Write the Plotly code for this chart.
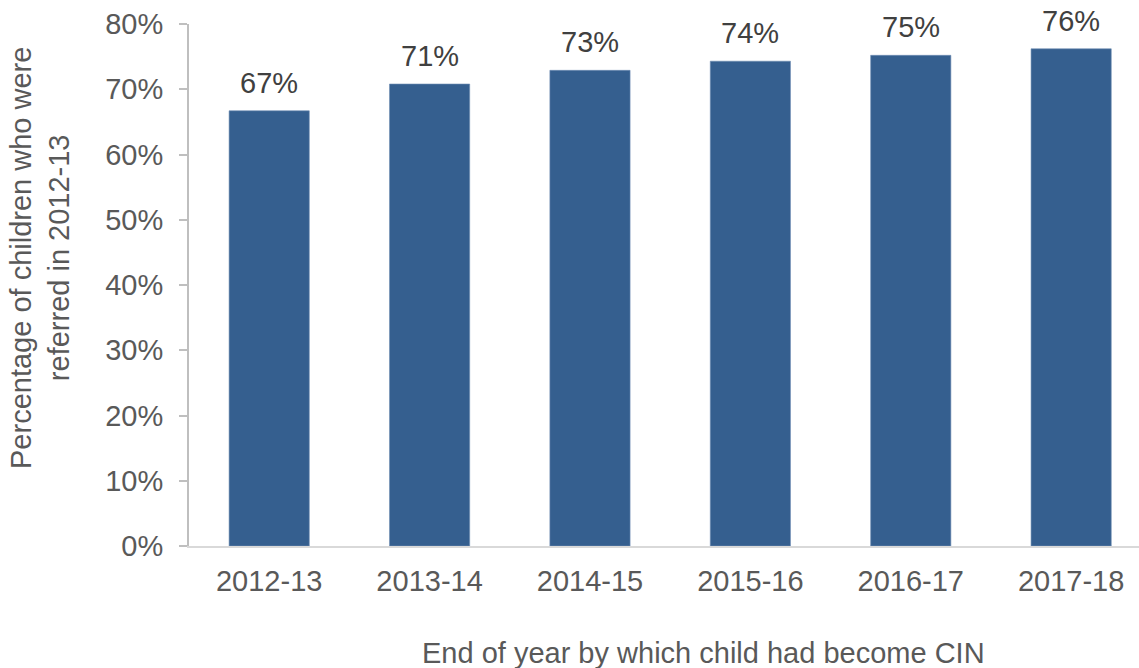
import plotly.graph_objects as go

categories = ["2012-13", "2013-14", "2014-15", "2015-16", "2016-17", "2017-18"]
values = [66.7, 70.8, 72.9, 74.3, 75.2, 76.2]
labels = ["67%", "71%", "73%", "74%", "75%", "76%"]
y_ticks = [0, 10, 20, 30, 40, 50, 60, 70, 80]
y_tick_text = ["0%", "10%", "20%", "30%", "40%", "50%", "60%", "70%", "80%"]

FONT = "Liberation Sans, Arial, sans-serif"
GREY = "#595959"
FS = 29

L, R, T, B, W, H = 189, 0, 24, 122, 1139, 668
pw = W - L - R
ph = H - T - B

def px_to_paper(px, py):
    return (px - L) / pw, (H - B - py) / ph

fig = go.Figure(go.Bar(
    x=list(range(len(categories))), y=values,
    marker=dict(color="#355F8F", line=dict(color="#6F8DB3", width=0.6)),
    width=0.5,
))

annotations = []
for i, (v, lab) in enumerate(zip(values, labels)):
    annotations.append(dict(
        x=i, y=v, xref="x", yref="y", text=lab, showarrow=False,
        xanchor="center", yanchor="bottom", yshift=10,
        font=dict(family=FONT, size=FS, color="#404040"),
    ))

xt_x, xt_y = px_to_paper(703, 653)
annotations.append(dict(
    text="End of year by which child had become CIN", x=xt_x, y=xt_y,
    xref="paper", yref="paper", showarrow=False, xanchor="center", yanchor="middle",
    font=dict(family=FONT, size=FS, color=GREY)))
yt_x, yt_y = px_to_paper(40, 258)
annotations.append(dict(
    text="Percentage of children who were<br>referred in 2012-13", x=yt_x, y=yt_y,
    xref="paper", yref="paper", showarrow=False, xanchor="center", yanchor="middle",
    textangle=-90, font=dict(family=FONT, size=FS, color=GREY)))

fig.update_layout(
    width=W, height=H,
    margin=dict(l=L, r=R, t=T, b=B),
    plot_bgcolor="white", paper_bgcolor="white",
    showlegend=False,
    font=dict(family=FONT, color=GREY),
    xaxis=dict(
        range=[-0.5, 5.423], tickmode="array",
        tickvals=list(range(len(categories))), ticktext=categories,
        showline=True, linecolor="#D9D9D9", linewidth=2,
        ticks="", showgrid=False, zeroline=False,
        tickfont=dict(family=FONT, size=FS, color=GREY),
        ticklabelstandoff=8,
    ),
    yaxis=dict(
        range=[0, 80], tickmode="array", tickvals=y_ticks, ticktext=y_tick_text,
        showline=True, linecolor="#BFBFBF", linewidth=2,
        ticks="outside", ticklen=8, tickcolor="#BFBFBF", tickwidth=2,
        showgrid=False, zeroline=False,
        tickfont=dict(family=FONT, size=FS, color=GREY),
        ticklabelstandoff=10,
    ),
    annotations=annotations,
)

fig.write_html("out.html")
